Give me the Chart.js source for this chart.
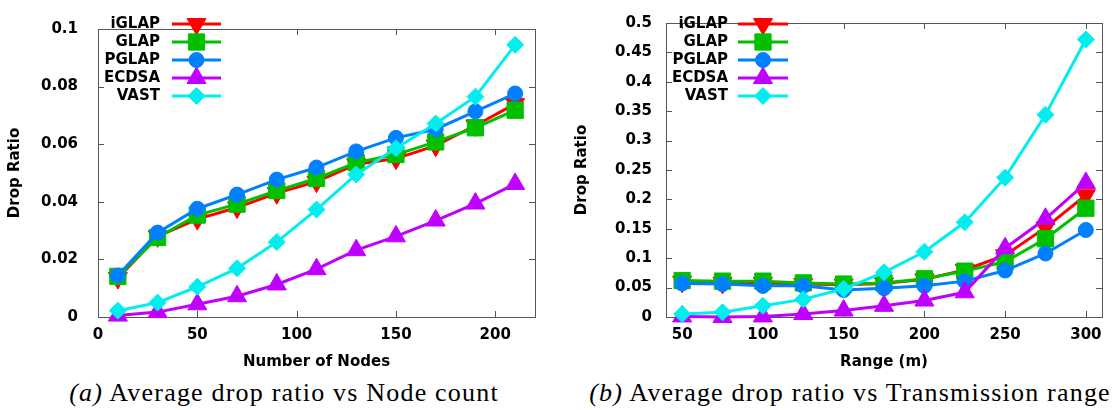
<!DOCTYPE html>
<html>
<head>
<meta charset="utf-8">
<script src="https://cdn.jsdelivr.net/npm/chart.js@4.4.1/dist/chart.umd.min.js"></script>
<style>
  html, body { margin: 0; padding: 0; background: #fff; }
  #page { position: relative; width: 1116px; height: 410px; overflow: hidden; background: #fff; }
  .panel { position: absolute; top: 0; height: 372px; }
  .cap { position: absolute; top: 378px; font-family: "Liberation Serif", "DejaVu Serif", serif; font-size: 26px; line-height: 30px; letter-spacing: 1.2px; color: #000; white-space: nowrap; transform: translateX(-50%); }
</style>
</head>
<body>
<div id="page">
  <div class="panel" style="left:0;width:560px"><canvas id="nodesChart" width="560" height="372"></canvas></div>
  <div class="panel" style="left:560px;width:556px"><canvas id="rangeChart" width="556" height="372"></canvas></div>
  <div class="cap" style="left:284px"><i>(a)</i> Average drop ratio vs Node count</div>
  <div class="cap" style="left:850px"><i>(b)</i> Average drop ratio vs Transmission range</div>
</div>
<script>
const seriesNames = ['iGLAP', 'GLAP', 'PGLAP', 'ECDSA', 'VAST'];

// (a) drop ratio vs number of nodes
const nodeCounts = [10, 30, 50, 70, 90, 110, 130, 150, 170, 190, 210];
const nodeTicks = [0, 50, 100, 150, 200];
const nodeRatioTicks = [0, 0.02, 0.04, 0.06, 0.08, 0.1];
const nodes_iGLAP = [0.0135, 0.0280, 0.0340, 0.0380, 0.0430, 0.0470, 0.0530, 0.0550, 0.0595, 0.0665, 0.0740];
const nodes_GLAP  = [0.0141, 0.0276, 0.0354, 0.0392, 0.0439, 0.0481, 0.0536, 0.0564, 0.0608, 0.0657, 0.0718];
const nodes_PGLAP = [0.0144, 0.0293, 0.0376, 0.0425, 0.0477, 0.0519, 0.0575, 0.0622, 0.0652, 0.0714, 0.0776];
const nodes_ECDSA = [0.0005, 0.0017, 0.0044, 0.0072, 0.0113, 0.0166, 0.0232, 0.0280, 0.0335, 0.0394, 0.0462];
const nodes_VAST  = [0.0022, 0.0050, 0.0105, 0.0169, 0.0260, 0.0373, 0.0495, 0.0586, 0.0672, 0.0765, 0.0945];

// (b) drop ratio vs transmission range
const ranges = [50, 75, 100, 125, 150, 175, 200, 225, 250, 275, 300];
const rangeTicks = [50, 100, 150, 200, 250, 300];
const rangeRatioTicks = [0, 0.05, 0.1, 0.15, 0.2, 0.25, 0.3, 0.35, 0.4, 0.45, 0.5];
const range_iGLAP = [0.060, 0.058, 0.058, 0.056, 0.055, 0.057, 0.064, 0.080, 0.105, 0.152, 0.207];
const range_GLAP  = [0.062, 0.061, 0.061, 0.058, 0.056, 0.058, 0.065, 0.078, 0.094, 0.133, 0.185];
const range_PGLAP = [0.057, 0.056, 0.053, 0.053, 0.046, 0.049, 0.053, 0.061, 0.079, 0.108, 0.148];
const range_ECDSA = [0.001, 0.000, 0.001, 0.005, 0.011, 0.019, 0.028, 0.042, 0.117, 0.167, 0.228];
const range_VAST  = [0.005, 0.008, 0.019, 0.030, 0.048, 0.076, 0.111, 0.161, 0.237, 0.344, 0.472];

// gnuplot-ish default colours and markers
const colors = ['#ff0000', '#00c000', '#0080ff', '#c000ff', '#00eeee'];
const markers = [
  {style: 'triangle', rot: 180, r: 11},
  {style: 'rect', rot: 0, r: 11.5},
  {style: 'circle', rot: 0, r: 7.5},
  {style: 'triangle', rot: 0, r: 11},
  {style: 'rectRot', rot: 0, r: 8.5}
];
const tickFont = {family: 'DejaVu Sans', size: 15, weight: 'bold'};

function makeDatasets(xs, values) {
  return seriesNames.map((name, i) => ({
    label: name,
    data: xs.map((x, j) => ({x: x, y: values[i][j]})),
    borderColor: colors[i],
    backgroundColor: colors[i],
    borderWidth: 3,
    pointStyle: markers[i].style,
    pointRotation: markers[i].rot,
    pointRadius: markers[i].r,
    pointBorderWidth: 1,
    pointBorderColor: colors[i],
    pointBackgroundColor: colors[i],
    order: seriesNames.length - i, // later series drawn on top
    clip: false
  }));
}

// frame with inward ticks on all four sides
const framePlugin = {
  id: 'frame',
  beforeDatasetsDraw(chart) {
    const {ctx, chartArea: a, scales} = chart;
    const L = 6;
    ctx.save();
    ctx.strokeStyle = '#555';
    ctx.lineWidth = 1;
    ctx.strokeRect(a.left + 0.5, a.top + 0.5, a.right - a.left, a.bottom - a.top);
    ctx.beginPath();
    scales.x.ticks.forEach(t => {
      const px = Math.round(scales.x.getPixelForValue(t.value)) + 0.5;
      ctx.moveTo(px, a.bottom); ctx.lineTo(px, a.bottom - L);
      ctx.moveTo(px, a.top); ctx.lineTo(px, a.top + L);
    });
    scales.y.ticks.forEach(t => {
      const py = Math.round(scales.y.getPixelForValue(t.value)) + 0.5;
      ctx.moveTo(a.left, py); ctx.lineTo(a.left + L, py);
      ctx.moveTo(a.right, py); ctx.lineTo(a.right - L, py);
    });
    ctx.stroke();
    ctx.restore();
  }
};

// key in the top-left corner: label, then line sample with marker
const keyPlugin = {
  id: 'gnuKey',
  afterDatasetsDraw(chart, args, opts) {
    const ctx = chart.ctx;
    ctx.save();
    ctx.font = 'bold 15px "DejaVu Sans"';
    ctx.textAlign = 'right';
    ctx.textBaseline = 'middle';
    chart.data.datasets.forEach((ds, i) => {
      const y = opts.top + i * opts.gap;
      ctx.fillStyle = '#000';
      ctx.fillText(ds.label, opts.textRight, y);
      ctx.strokeStyle = ds.borderColor;
      ctx.lineWidth = ds.borderWidth;
      ctx.beginPath();
      ctx.moveTo(opts.lineStart, y);
      ctx.lineTo(opts.lineEnd, y);
      ctx.stroke();
      ctx.fillStyle = ds.backgroundColor;
      ctx.lineWidth = ds.pointBorderWidth;
      Chart.helpers.drawPoint(ctx, {
        pointStyle: ds.pointStyle,
        rotation: ds.pointRotation,
        radius: ds.pointRadius,
        borderWidth: ds.pointBorderWidth
      }, (opts.lineStart + opts.lineEnd) / 2, y);
    });
    ctx.restore();
  }
};

function makeChart(id, cfg) {
  return new Chart(document.getElementById(id), {
    type: 'line',
    data: {datasets: makeDatasets(cfg.xs, cfg.values)},
    plugins: [framePlugin, keyPlugin],
    options: {
      responsive: false,
      animation: false,
      devicePixelRatio: 1,
      layout: {padding: {top: 14, right: cfg.padRight, left: 0, bottom: 0}},
      plugins: {
        legend: {display: false},
        tooltip: {enabled: false},
        gnuKey: cfg.key
      },
      scales: {
        x: {
          type: 'linear',
          min: cfg.xMin,
          max: cfg.xMax,
          afterBuildTicks: s => { s.ticks = cfg.xTicks.map(v => ({value: v})); },
          afterFit: s => { s.height = 55; },
          grid: {display: false, drawTicks: false},
          border: {display: false},
          ticks: {font: tickFont, color: '#000', padding: 9, maxRotation: 0},
          title: {display: true, text: cfg.xTitle, font: tickFont, color: '#000', padding: {top: 0, bottom: 1}}
        },
        y: {
          type: 'linear',
          min: 0,
          max: cfg.yMax,
          afterBuildTicks: s => { s.ticks = cfg.yTicks.map(v => ({value: v})); },
          afterFit: s => { s.width = cfg.yWidth; },
          grid: {display: false, drawTicks: false},
          border: {display: false},
          ticks: {font: tickFont, color: '#000', padding: cfg.yPad, callback: v => String(+v.toFixed(3))},
          title: {display: true, text: 'Drop Ratio', font: tickFont, color: '#000', padding: {top: cfg.yTitlePad, bottom: 0}}
        }
      }
    }
  });
}

makeChart('nodesChart', {
  xs: nodeCounts,
  values: [nodes_iGLAP, nodes_GLAP, nodes_PGLAP, nodes_ECDSA, nodes_VAST],
  xMin: 0, xMax: 220, xTicks: nodeTicks,
  yMax: 0.1, yTicks: nodeRatioTicks,
  xTitle: 'Number of Nodes',
  padRight: 25, yWidth: 98, yPad: 20, yTitlePad: 6,
  key: {textRight: 160, lineStart: 172, lineEnd: 221, top: 24, gap: 18}
});

makeChart('rangeChart', {
  xs: ranges,
  values: [range_iGLAP, range_GLAP, range_PGLAP, range_ECDSA, range_VAST],
  xMin: 40, xMax: 310, xTicks: rangeTicks,
  yMax: 0.5, yTicks: rangeRatioTicks,
  xTitle: 'Range (m)',
  padRight: 14, yWidth: 106, yPad: 14, yTitlePad: 13,
  key: {textRight: 168, lineStart: 178, lineEnd: 228, top: 24, gap: 18}
});
</script>
</body>
</html>
